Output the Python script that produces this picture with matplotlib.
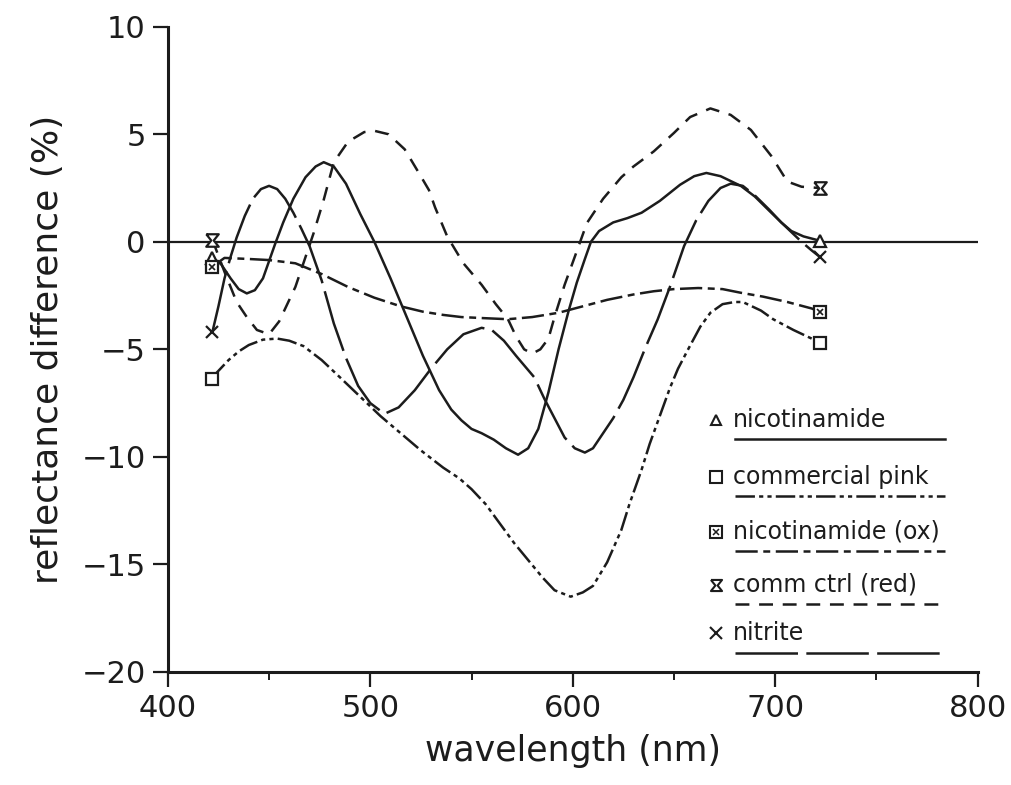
import numpy as np
import matplotlib
matplotlib.use("Agg")
import matplotlib.pyplot as plt
from matplotlib.ticker import MultipleLocator

plt.rcParams['font.family'] = ['DejaVu Sans']
plt.rcParams['lines.scale_dashes'] = False

INK = '#1c1c1c'

# nicotinamide (solid, triangle)
nic_wl = [422, 426, 431, 435, 439, 443, 447, 450, 453, 457, 462, 468, 473, 477, 482, 488, 495,
          502, 510, 518, 526, 534, 540, 545, 550, 555, 561, 567, 573, 578, 583, 588, 593,
          598, 602, 606, 609, 613, 620, 627, 634, 643, 653, 660, 666, 673, 683, 690, 697,
          703, 708, 714, 722]
nic_val = [-0.75, -1.0, -1.7, -2.2, -2.4, -2.25, -1.7, -0.9, -0.1, 0.9, 2.0, 3.0, 3.5, 3.7, 3.5, 2.7, 1.3,
           0.0, -1.7, -3.5, -5.3, -6.9, -7.8, -8.3, -8.7, -8.9, -9.2, -9.6, -9.9, -9.6, -8.7, -7.0, -5.0,
           -3.2, -1.9, -0.8, 0.0, 0.5, 0.9, 1.1, 1.35, 1.9, 2.65, 3.05, 3.2, 3.05, 2.6, 2.1, 1.45,
           0.9, 0.5, 0.25, 0.05]

# commercial pink (dash-dot-dot, square)
pink_wl = [422, 424, 430, 435, 440, 447, 454, 460, 467, 476, 485, 495, 505, 515, 525, 536,
           544, 550, 557, 564, 571, 578, 585, 591, 599, 605, 610, 617, 624, 628, 634, 638, 643,
           648, 652, 657, 663, 668, 674, 680, 684, 693, 699, 709, 718, 722]
pink_val = [-6.4, -6.1, -5.5, -5.1, -4.8, -4.55, -4.5, -4.6, -4.85, -5.5, -6.3, -7.2, -8.1, -8.9, -9.7, -10.5,
            -11.0, -11.5, -12.2, -13.1, -14.0, -14.8, -15.6, -16.2, -16.5, -16.3, -16.0, -14.9, -13.4, -12.2, -10.6, -9.4, -8.1,
            -6.8, -5.9, -5.0, -3.95, -3.3, -2.9, -2.8, -2.8, -3.2, -3.6, -4.1, -4.5, -4.7]

# nicotinamide (ox) (long dash - short dash, boxed square)
ox_wl = [422, 428, 440, 450, 463, 476, 489, 502, 515, 526, 536, 545, 556, 568, 580, 593,
         605, 617, 630, 640, 650, 662, 674, 683, 694, 706, 718, 722]
ox_val = [-1.15, -0.75, -0.8, -0.85, -1.0, -1.5, -2.1, -2.6, -3.0, -3.25, -3.4, -3.5, -3.55, -3.6, -3.5, -3.3,
          -3.0, -2.7, -2.45, -2.3, -2.2, -2.15, -2.2, -2.37, -2.55, -2.8, -3.1, -3.25]

# comm ctrl (red) (short dashes, hourglass)
ctrl_wl = [422, 428, 434, 439, 444, 450, 455, 463, 472, 477, 482, 489, 497, 502, 509, 517,
           524, 529, 532, 538, 546, 555, 562, 568, 572, 576, 580, 584, 588, 591, 596, 601,
           607, 615, 624, 630, 640, 650, 658, 668, 678, 688, 698, 706, 713, 722]
ctrl_val = [0.1, -1.4, -2.8, -3.5, -4.1, -4.3, -3.7, -2.1, 0.4, 1.95, 3.7, 4.65, 5.1, 5.16, 5.0, 4.3,
            3.2, 2.4, 1.6, 0.25, -1.0, -2.0, -2.9, -3.6, -4.4, -5.0, -5.2, -5.0, -4.5, -3.5, -2.0, -0.7,
            0.87, 2.0, 3.0, 3.5, 4.2, 5.06, 5.8, 6.2, 5.9, 5.2, 4.0, 2.8, 2.56, 2.5]

# nitrite (long dashes, cross)
nit_wl = [422, 425, 428, 431, 434, 438, 442, 446, 450, 454, 458, 462, 466, 470, 476, 482,
          488, 494, 500, 507, 514, 522, 530, 538, 546, 555, 560, 566, 572, 581, 586, 591,
          596, 601, 606, 610, 615, 620, 625, 630, 636, 642, 648, 655, 661, 667, 673, 678,
          684, 690, 697, 703, 708, 713, 718, 722]
nit_val = [-4.2, -3.0, -1.7, -0.7, 0.2, 1.2, 2.0, 2.45, 2.6, 2.45, 2.0, 1.35, 0.6, -0.2, -1.8, -3.8,
           -5.4, -6.7, -7.5, -8.0, -7.7, -6.9, -5.9, -5.0, -4.3, -4.0, -4.1, -4.6, -5.3, -6.3, -7.3, -8.2,
           -9.1, -9.6, -9.8, -9.6, -8.9, -8.2, -7.35, -6.3, -4.9, -3.6, -2.1, -0.2, 1.0, 1.9, 2.5, 2.7,
           2.6, 2.15, 1.5, 0.9, 0.45, 0.0, -0.4, -0.7]

labels = ['nicotinamide', 'commercial pink', 'nicotinamide (ox)', 'comm ctrl (red)', 'nitrite']

hourglass = [(-1, 1), (1, 1), (0.2, 0), (1, -1), (-1, -1), (-0.2, 0), (-1, 1)]

series = [
    (nic_wl, nic_val, dict(linestyle='-', marker='^', ms=8)),
    (pink_wl, pink_val, dict(dashes=(14, 3, 3, 3, 3, 3), marker='s', ms=9)),
    (ox_wl, ox_val, dict(dashes=(16, 4, 5, 4), marker='s', ms=9)),
    (ctrl_wl, ctrl_val, dict(dashes=(10, 7), marker=hourglass, ms=9)),
    (nit_wl, nit_val, dict(dashes=(45, 6), marker='x', ms=9)),
]

fig = plt.figure(figsize=(10.11, 7.85), dpi=100)
ax = fig.add_axes([0.166, 0.144, 0.801, 0.822])

ax.axhline(0, color=INK, lw=1.6, zorder=1)

for wl, val, st in series:
    ax.plot(wl, val, color=INK, lw=1.8, mfc='white', mec=INK, mew=1.6,
            markevery=[0, len(wl) - 1], zorder=3, **st)
# dotted fill of the ox marker
ax.plot([ox_wl[0], ox_wl[-1]], [ox_val[0], ox_val[-1]], ls='none', marker='x',
        ms=5, mew=1.2, color=INK, zorder=4)

ax.set_xlim(400, 800)
ax.set_ylim(-20, 10)
ax.xaxis.set_major_locator(MultipleLocator(100))
ax.xaxis.set_minor_locator(MultipleLocator(50))
ax.yaxis.set_major_locator(MultipleLocator(5))
ax.tick_params(axis='both', which='major', direction='out', length=11, width=1.6,
               labelsize=22, color=INK, labelcolor=INK, pad=5)
ax.tick_params(axis='x', which='minor', direction='out', length=6, width=1.4, color=INK)
for s in ['top', 'right']:
    ax.spines[s].set_visible(False)
for s in ['left', 'bottom']:
    ax.spines[s].set_linewidth(2.2)
    ax.spines[s].set_color(INK)

ax.set_xlabel('wavelength (nm)', fontsize=25, color=INK, labelpad=8)
ax.set_ylabel('reflectance difference (%)', fontsize=26, color=INK, labelpad=12)

# hand-lettered key: marker, label, line sample underneath
key_y = [0.391, 0.302, 0.217, 0.135, 0.060]
for (wl, val, st), lab, ty in zip(series, labels, key_y):
    ax.plot([0.677], [ty], transform=ax.transAxes, color=INK, ls='none',
            marker=st['marker'], ms=st['ms'] - 1, mfc='white', mec=INK, mew=1.5, clip_on=False)
    ax.text(0.698, ty, lab, transform=ax.transAxes, fontsize=17, color=INK,
            va='center', ha='left')
    line_st = {k: v for k, v in st.items() if k in ('linestyle', 'dashes')}
    ax.plot([0.700, 0.960], [ty - 0.030, ty - 0.030], transform=ax.transAxes,
            color=INK, lw=1.8, clip_on=False, **line_st)
ax.plot([0.677], [key_y[2]], transform=ax.transAxes, ls='none', marker='x', ms=4,
        mew=1.1, color=INK)

fig.savefig('out.png', dpi=100, facecolor='white')
